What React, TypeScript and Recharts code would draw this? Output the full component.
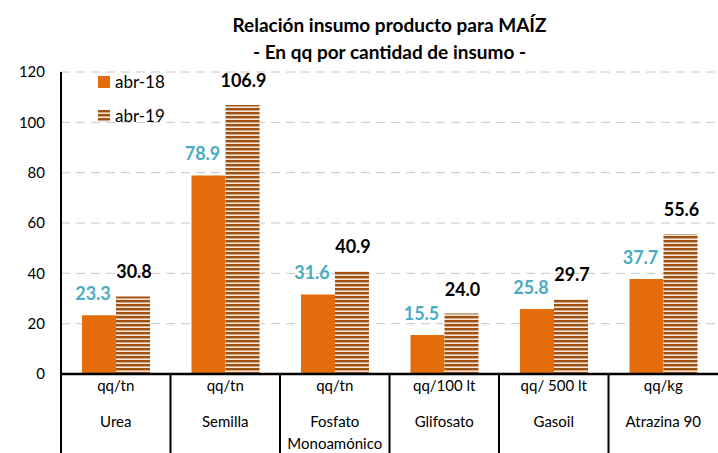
import {
  BarChart,
  Bar,
  XAxis,
  YAxis,
  CartesianGrid,
  LabelList,
} from "recharts";

// units shown on the first row under each category
const units = ["qq/tn", "qq/tn", "qq/tn", "qq/100 lt", "qq/ 500 lt", "qq/kg"];
const categories = ["Urea", "Semilla", "Fosfato\nMonoamónico", "Glifosato", "Gasoil", "Atrazina 90"];
const abr18 = [23.3, 78.9, 31.6, 15.5, 25.8, 37.7];
const abr19 = [30.8, 106.9, 40.9, 24.0, 29.7, 55.6];
const yTicks = [0, 20, 40, 60, 80, 100, 120];

const chartData = categories.map((name, i) => ({
  name,
  unit: units[i],
  abr18: abr18[i],
  abr19: abr19[i],
}));

const FONT = "Lato, 'Liberation Sans', sans-serif";
const ORANGE = "#E46C0A";
const BROWN = "#A0500F";
const BLUE = "#4BACC6";
const W = 718;
const H = 453;
const LEFT = 61;
const AXIS_Y = 374;
const BAND = (W - LEFT) / categories.length;

const CategoryTick = (props: any) => {
  const { x, payload, index } = props;
  const lines = String(payload.value).split("\n");
  const left = x - BAND / 2;
  return (
    <g>
      <line x1={left} x2={left} y1={AXIS_Y} y2={H} stroke="#000" strokeWidth={2} />
      <text x={x} y={AXIS_Y + 17} textAnchor="middle" fontSize={15} fontFamily={FONT} fill="#000">
        {units[index]}
      </text>
      {lines.map((l, i) => (
        <text
          key={i}
          x={x}
          y={AXIS_Y + 53 + i * 22}
          textAnchor="middle"
          fontSize={15}
          fontFamily={FONT}
          fill="#000"
        >
          {l}
        </text>
      ))}
    </g>
  );
};

const makeLabel = (color: string, dx: number, dy: number) => (props: any) => {
  const { x, y, width, value } = props;
  return (
    <text
      x={x + width / 2 + dx}
      y={y - dy}
      textAnchor="middle"
      fontSize={18}
      fontWeight="bold"
      fontFamily={FONT}
      fill={color}
    >
      {Number(value).toFixed(1)}
    </text>
  );
};

const LegendBox = () => (
  <div
    style={{
      position: "absolute",
      left: 98,
      top: 65,
      fontFamily: FONT,
      fontSize: 17,
      color: "#000",
      lineHeight: "34px",
      zIndex: 2,
    }}
  >
    <div style={{ display: "flex", alignItems: "center" }}>
      <span style={{ width: 12, height: 12, background: ORANGE, marginRight: 5, display: "inline-block" }} />
      abr-18
    </div>
    <div style={{ display: "flex", alignItems: "center" }}>
      <svg width={12} height={12} style={{ marginRight: 5 }}>
        <rect width={12} height={12} fill="url(#hatch)" />
      </svg>
      abr-19
    </div>
  </div>
);

export default function App() {
  return (
    <div style={{ position: "absolute", left: 0, top: 0, width: W, height: H, background: "#fff" }}>
      <div
        style={{
          position: "absolute",
          left: LEFT,
          right: 0,
          top: 11,
          textAlign: "center",
          fontFamily: FONT,
          fontWeight: "bold",
          fontSize: 19,
          lineHeight: "27px",
          color: "#000",
          zIndex: 2,
        }}
      >
        <div>Relación insumo producto para MAÍZ</div>
        <div>- En qq por cantidad de insumo -</div>
      </div>
      <LegendBox />
      <BarChart
        width={W}
        height={H}
        data={chartData}
        margin={{ top: 72, right: 0, bottom: 0, left: 0 }}
        barGap={0}
        barSize={34}
      >
        <defs>
          <pattern id="hatch" width={8} height={4} patternUnits="userSpaceOnUse">
            <rect width={8} height={4} fill="#F6E6DA" />
            <rect width={8} height={2.4} fill={BROWN} />
          </pattern>
        </defs>
        <CartesianGrid vertical={false} stroke="#C8C8C8" strokeDasharray="9 6" />
        <XAxis
          dataKey="name"
          height={H - AXIS_Y}
          interval={0}
          axisLine={{ stroke: "#000", strokeWidth: 2.5 }}
          tickLine={false}
          tick={<CategoryTick />}
        />
        <YAxis
          width={LEFT}
          domain={[0, 120]}
          ticks={yTicks}
          axisLine={{ stroke: "#000", strokeWidth: 2 }}
          tickLine={false}
          tickSize={6}
          tickMargin={10}
          tick={{ fontSize: 15, fontFamily: FONT, fill: "#000" }}
        />
        <Bar dataKey="abr18" name="abr-18" fill={ORANGE} isAnimationActive={false}>
          <LabelList dataKey="abr18" content={makeLabel(BLUE, -6, 15)} />
        </Bar>
        <Bar dataKey="abr19" name="abr-19" fill="url(#hatch)" isAnimationActive={false}>
          <LabelList dataKey="abr19" content={makeLabel("#000", 1, 18)} />
        </Bar>
      </BarChart>
    </div>
  );
}
